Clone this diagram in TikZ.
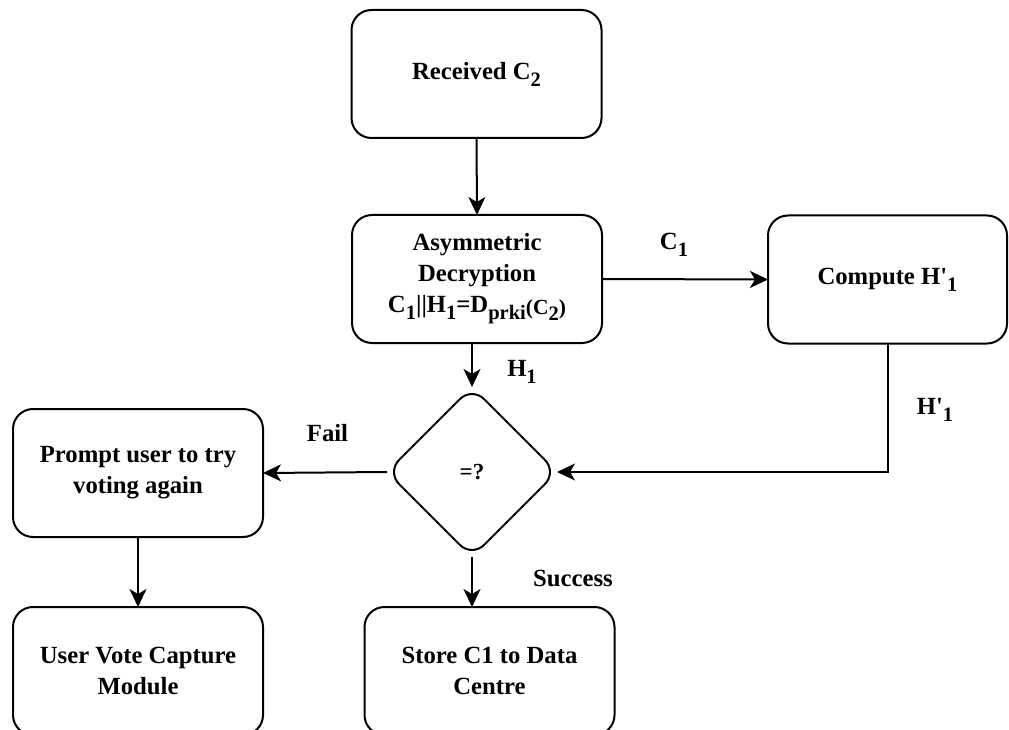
\documentclass[tikz,border=0pt]{standalone}
\usepackage{fontspec}
\setmainfont{Liberation Serif}
\usetikzlibrary{shapes.geometric,arrows.meta}
% lowered, smaller index text
\newcommand\sbs[1]{\raisebox{-0.28em}{\fontsize{20.5}{20.5}\selectfont #1}}
\newcommand\argtext[1]{\raisebox{-2pt}{\fontsize{21.5}{21.5}\selectfont #1}}
\newcommand\hp{H\textquotesingle}

\begin{document}
\begin{tikzpicture}[x=1pt,y=-1pt,
  every node/.style={font=\bfseries\fontsize{24.7}{31}\selectfont},
  procbox/.style={draw, line width=2pt, rounded corners=20pt,
    minimum width=250pt, minimum height=128pt, align=center,
    inner sep=0pt, outer sep=0pt},
  decision/.style={draw, diamond, aspect=1, line width=2pt,
    rounded corners=17pt, minimum width=170pt, minimum height=170pt,
    inner sep=0pt, outer sep=0pt},
  flow/.style={line width=2pt, -{Stealth[length=18pt,width=17pt,inset=5pt]}},
  lbl/.style={inner sep=0pt}
]
\useasboundingbox (0,0) rectangle (1009,730);
\clip (0,0) rectangle (1009,730);

% process steps
\node[procbox] (rec) at (476.5,74) {Received C\sbs{2}};
\node[procbox] (dec) at (477,279) {Asymmetric\\Decryption\\
  C\sbs{1}||H\sbs{1}=D\sbs{prki}\argtext{(C\sbs{2})}};
\node[procbox, minimum width=239pt] (comp) at (887.5,279.5) {Compute \hp\sbs{1}};
\node[decision] (dia) at (472,472) {\fontsize{23}{23}\selectfont =?};
\node[procbox] (prompt) at (138,473) {Prompt user to try\\voting again};
\node[procbox] (uvc) at (138,671) {User Vote Capture\\Module};
\node[procbox] (store) at (489.5,671) {Store C1 to Data\\Centre};

% connectors
\draw[flow] (rec.south) -- (dec.north);
\draw[flow] (dec.east) -- (comp.west);
\draw[flow] (dia.north |- dec.south) -- (dia.north);
\draw[flow] (comp.south) -- (comp.south |- dia.east) -- (dia.east);
\draw[flow] (dia.west) -- (prompt.east);
\draw[flow] (dia.south) -- (dia.south |- store.north);
\draw[flow] (prompt.south) -- (uvc.north);

% connector labels
\node[lbl] (lc1) at (674,245) {C\sbs{1}};
\node[lbl] (lh1) at (522,372) {H\sbs{1}};
\node[lbl] (lhp) at (935,410) {\hp\sbs{1}};
\node[lbl] (lfail) at (327.5,433) {Fail};
\node[lbl] (lsucc) at (573,578) {Success};
\end{tikzpicture}
\end{document}
